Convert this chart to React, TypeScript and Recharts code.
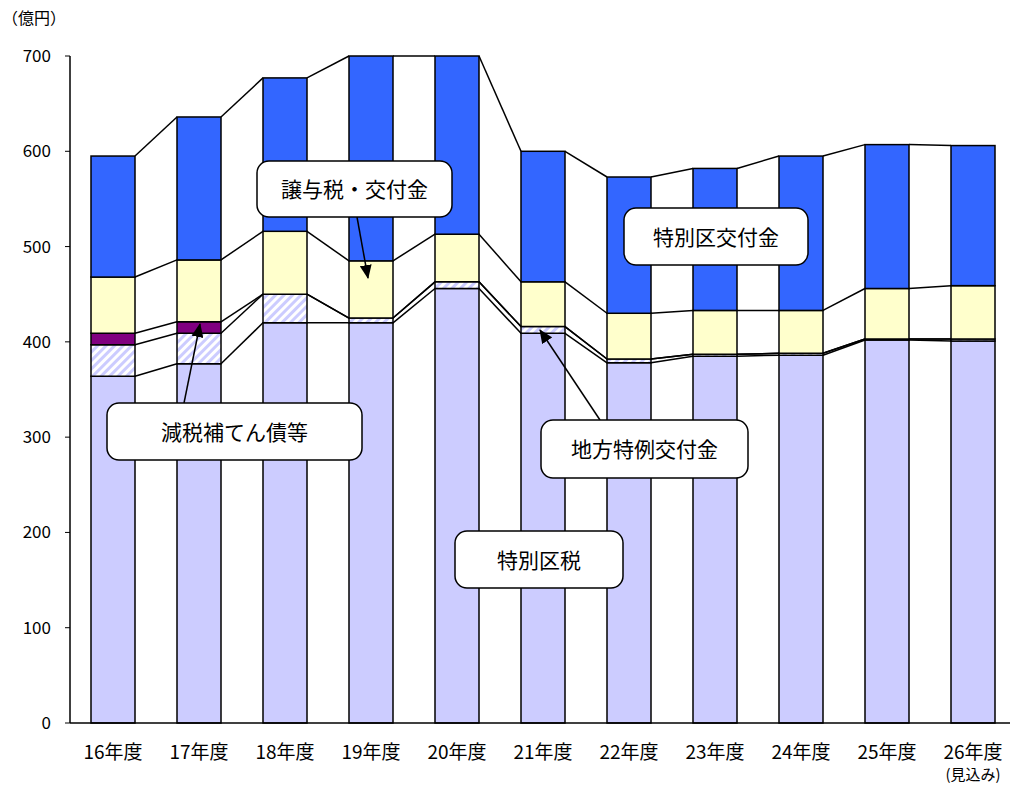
import { BarChart, Bar, XAxis, YAxis } from 'recharts';

const years = ['16年度', '17年度', '18年度', '19年度', '20年度', '21年度', '22年度', '23年度', '24年度', '25年度', '26年度'];
const tokubetsukuZei = [364, 377, 420, 420, 456, 409, 378, 385, 386, 402, 401];
const chihoTokurei = [33, 32, 30, 5, 7, 7, 4, 2, 2, 1, 2];
const genzeiHoten = [12, 12, 0, 0, 0, 0, 0, 0, 0, 0, 0];
const jouyozei = [59, 65, 66, 60, 50, 47, 48, 46, 45, 53, 56];
const kofukin = [127, 150, 161, 215, 187, 137, 143, 149, 162, 151, 147];
const yTicks = [0, 100, 200, 300, 400, 500, 600, 700];

const data = years.map((year, i) => ({
  year,
  zei: tokubetsukuZei[i],
  tokurei: chihoTokurei[i],
  genzei: genzeiHoten[i],
  jouyo: jouyozei[i],
  kofu: kofukin[i],
}));

// cumulative tops of every layer, used for the joining lines
const series = [tokubetsukuZei, chihoTokurei, genzeiHoten, jouyozei, kofukin];
const levels = series.map((_, k) => years.map((_, i) => series.slice(0, k + 1).reduce((s, arr) => s + arr[i], 0)));

const CHART_W = 1016;
const CHART_H = 787;
const M_LEFT = 10;
const Y_W = 60;
const STEP = (CHART_W - M_LEFT - Y_W) / years.length;
const FONT = '"Noto Sans CJK JP", "Noto Sans", sans-serif';

function TopBar(props: any) {
  const { x, y, width, height, index, fill } = props;
  const ppu = height / kofukin[index];
  const base = y + height + levels[3][index] * ppu;
  const pix = (v: number) => base - v * ppu;
  const lines = [];
  if (index < years.length - 1) {
    for (let k = 0; k < levels.length; k++) {
      lines.push(
        <line key={k} x1={x + width} y1={pix(levels[k][index])} x2={x + STEP} y2={pix(levels[k][index + 1])} stroke="#000" strokeWidth={1.5} />
      );
    }
  }
  return (
    <g>
      <rect x={x} y={y} width={width} height={height} fill={fill} stroke="#000" strokeWidth={1.5} />
      {lines}
    </g>
  );
}

function XTick(props: any) {
  const { x, y, payload } = props;
  return (
    <g>
      <text x={x} y={y + 28} textAnchor="middle" fontSize={19} fill="#000" fontFamily={FONT}>{payload.value}</text>
      {payload.value === '26年度' && (
        <text x={x} y={y + 49} textAnchor="middle" fontSize={15} fill="#000" fontFamily={FONT}>(見込み)</text>
      )}
    </g>
  );
}

function Callout({ x, y, w, h, text }: { x: number; y: number; w: number; h: number; text: string }) {
  return (
    <g>
      <rect x={x} y={y} width={w} height={h} rx={12} fill="#fff" stroke="#000" strokeWidth={1.5} />
      <text x={x + w / 2} y={y + h / 2 + 8} textAnchor="middle" fontSize={21} fill="#000" fontFamily={FONT}>{text}</text>
    </g>
  );
}

export default function App() {
  return (
    <div style={{ position: 'absolute', left: 0, top: 0, width: 1010, height: 787, overflow: 'hidden', background: '#fff' }}>
      <div style={{ position: 'absolute', left: 2, top: 5, fontSize: 16, fontFamily: FONT }}>（億円）</div>
      <BarChart width={CHART_W} height={CHART_H} data={data} margin={{ top: 56, right: 0, bottom: 0, left: M_LEFT }} barSize={44}>
        <defs>
          <pattern id="hatch" width="6" height="6" patternUnits="userSpaceOnUse" patternTransform="rotate(45)">
            <rect width="6" height="6" fill="#fff" />
            <rect width="3" height="6" fill="#ccccff" />
          </pattern>
        </defs>
        <XAxis dataKey="year" height={64} axisLine={{ stroke: '#000', strokeWidth: 1.5 }} tickLine={false} tick={<XTick />} interval={0} />
        <YAxis
          width={Y_W}
          domain={[0, 700]}
          ticks={yTicks}
          axisLine={{ stroke: '#000', strokeWidth: 1.5 }}
          tickLine={{ stroke: '#000' }}
          tickSize={5}
          tickMargin={14}
          tick={{ fontSize: 17, fill: '#000', fontFamily: FONT }}
        />
        <Bar dataKey="zei" stackId="a" fill="#ccccff" stroke="#000" strokeWidth={1.5} isAnimationActive={false} />
        <Bar dataKey="tokurei" stackId="a" fill="url(#hatch)" stroke="#000" strokeWidth={1.5} isAnimationActive={false} />
        <Bar dataKey="genzei" stackId="a" fill="#800080" stroke="#000" strokeWidth={1.5} isAnimationActive={false} />
        <Bar dataKey="jouyo" stackId="a" fill="#ffffcc" stroke="#000" strokeWidth={1.5} isAnimationActive={false} />
        <Bar dataKey="kofu" stackId="a" fill="#3366ff" shape={<TopBar />} isAnimationActive={false} />
      </BarChart>
      <svg width={1010} height={787} style={{ position: 'absolute', left: 0, top: 0, pointerEvents: 'none' }}>
        <defs>
          <marker id="arrow" markerWidth="14" markerHeight="12" refX="13" refY="6" orient="auto" markerUnits="userSpaceOnUse">
            <path d="M0,0 L14,6 L0,12 Z" fill="#000" />
          </marker>
        </defs>
        <line x1={357} y1={217} x2={368} y2={278} stroke="#000" strokeWidth={1.5} markerEnd="url(#arrow)" />
        <line x1={184} y1={403} x2={200} y2={324} stroke="#000" strokeWidth={1.5} markerEnd="url(#arrow)" />
        <line x1={600} y1={420} x2={540} y2={330} stroke="#000" strokeWidth={1.5} markerEnd="url(#arrow)" />
        <Callout x={257} y={161} w={195} h={56} text="譲与税・交付金" />
        <Callout x={624} y={208} w={184} h={57} text="特別区交付金" />
        <Callout x={107} y={403} w={255} h={57} text="減税補てん債等" />
        <Callout x={541} y={420} w={207} h={58} text="地方特例交付金" />
        <Callout x={455} y={531} w={168} h={57} text="特別区税" />
      </svg>
    </div>
  );
}
